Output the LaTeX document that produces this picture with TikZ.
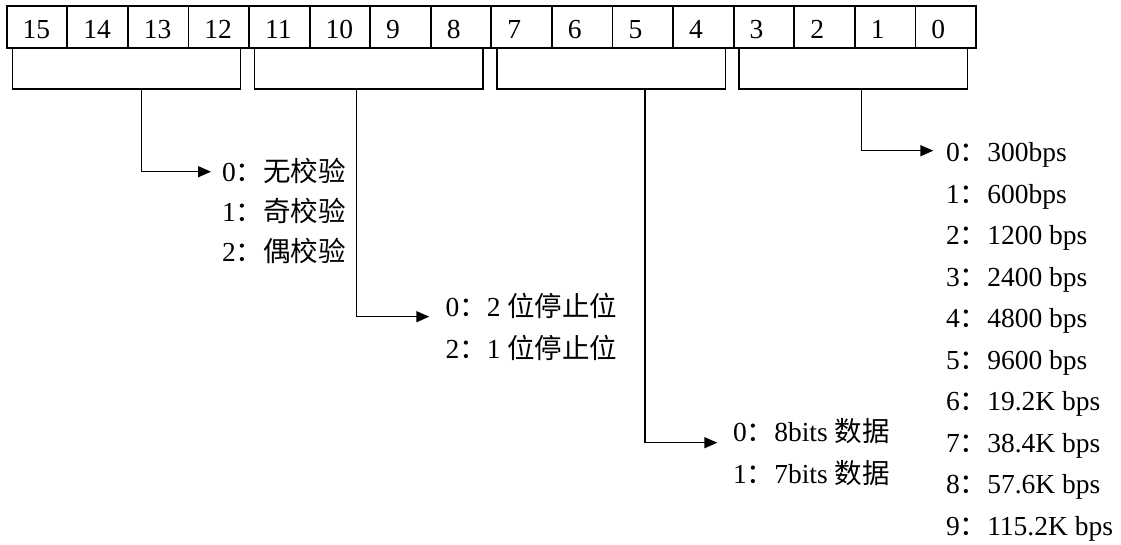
\documentclass[tikz,border=0pt]{standalone}
\usepackage{fontspec}
\setmainfont{Liberation Serif}
\newfontfamily\cjk{Noto Sans CJK SC}
\usetikzlibrary{arrows.meta}
\begin{document}
\begin{tikzpicture}[x=1pt,y=-1pt,
  every node/.style={inner sep=0pt, outer sep=0pt},
  cell/.style={draw, line width=1.8pt, minimum width=60.585pt, minimum height=42.3pt, anchor=north west},
  field/.style={draw, line width=1.5pt, fill=white, minimum width=228.4pt, minimum height=41pt, anchor=north west},
  txt/.style={anchor=base west, font=\fontsize{27.5}{32}\selectfont},
  arr/.style={line width=1.5pt, -{Triangle[length=13pt,width=11pt]}}]
\useasboundingbox (0,0) rectangle (1121,544);

% bit numbers 15 .. 0
\foreach \b [count=\i from 0] in {15,14,...,0} {
  \node[cell] (c\b) at ({6.7+60.585*\i},6) {};
  \node[txt] (l\b) at ({6.7+60.585*\i+16},38.3) {\b};
}

% field boxes under each nibble
\node[field] (parity) at (12.3,48) {};
\node[field] (stop)   at (254.6,48) {};
\node[field] (dbits)  at (496.9,48) {};
\node[field] (baud)   at (739.2,48) {};

% parity options
\node[txt] (p0) at (222,181.7) {0{\cjk ：无校验}};
\node[txt] (p1) at (222,221.7) {1{\cjk ：奇校验}};
\node[txt] (p2) at (222,261.7) {2{\cjk ：偶校验}};

% stop bit options
\node[txt] (s0) at (445.5,316.7) {0{\cjk ：}2 {\cjk 位停止位}};
\node[txt] (s1) at (445.5,358.3) {2{\cjk ：}1 {\cjk 位停止位}};

% data bit options
\node[txt] (d0) at (733,441.7) {0{\cjk ：}8bits {\cjk 数据}};
\node[txt] (d1) at (733,483.3) {1{\cjk ：}7bits {\cjk 数据}};

% baud rate options
\foreach \n/\r [count=\k from 0] in {0/300bps,1/600bps,2/1200 bps,3/2400 bps,4/4800 bps,5/9600 bps,6/19.2K bps,7/38.4K bps,8/57.6K bps,9/115.2K bps}
  \node[txt] (r\n) at (946,{161.7+41.5*\k}) {\n{\cjk ：}\r};

% connector taps and arrow ends
\coordinate (tp) at (141.7,89);  \coordinate (ap) at (211,171.7);
\coordinate (ts) at (356.5,89);  \coordinate (as) at (429.3,316.7);
\coordinate (td) at (645,89);    \coordinate (ad) at (717.3,442.7);
\coordinate (tb) at (861.3,89);  \coordinate (ab) at (933.3,150.7);

\draw[arr] (tp) |- (ap);
\draw[arr] (ts) |- (as);
\draw[arr] (td) |- (ad);
\draw[arr] (tb) |- (ab);
\end{tikzpicture}
\end{document}
